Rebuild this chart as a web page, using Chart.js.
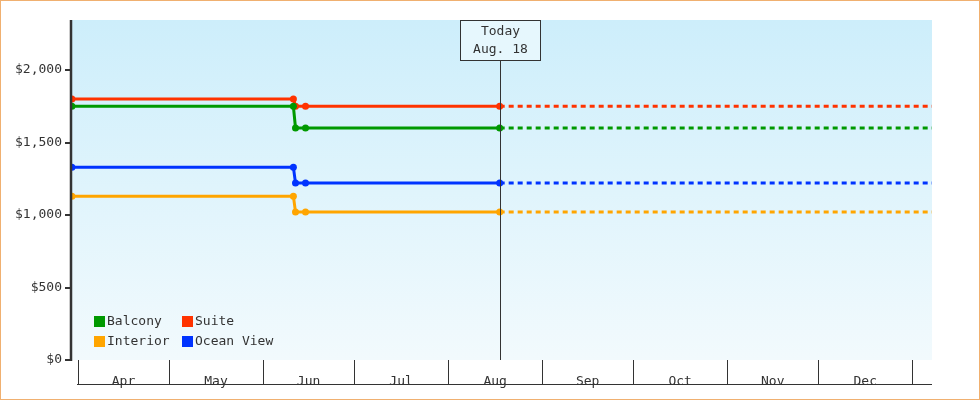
<!DOCTYPE html>
<html><head><meta charset="utf-8">
<script src="https://cdn.jsdelivr.net/npm/chart.js@4"></script>
<style>html,body{margin:0;padding:0;background:#fff}
#w{width:978px;height:398px;border:1px solid #f0b070;position:relative}
canvas{display:block}</style></head>
<body><div id="w"><canvas id="c" width="978" height="398"></canvas></div>
<script>
// day-of-year (Jan 1 = 0)
const seriesNames = ["Balcony","Suite","Interior","Ocean View"];
const seriesColors = ["#009900","#ff3300","#ffa500","#0033ff"];
const changeDays = [88, 161, 161.7, 165, 229]; // Mar 29, Jun 10, Jun 11, Jun 14, Aug 18
const balcony = [1750, 1750, 1600, 1600, 1600];
const suite = [1800, 1800, 1750, 1750, 1750];
const interior = [1130, 1130, 1020, 1020, 1020];
const oceanView = [1330, 1330, 1220, 1220, 1220];
const monthLabels = ["Apr","May","Jun","Jul","Aug","Sep","Oct","Nov","Dec"];
const monthStarts = [90,120,151,181,212,243,273,304,334,365];
const yTicks = [0,500,1000,1500,2000];
const todayDay = 229, todayLabel = ["Today","Aug. 18"];
const xMin = 87.7, xMax = 371.5, yMax = 2345;

const values = [balcony, suite, interior, oceanView];
const datasets = [];
values.forEach((v,i)=>{
  datasets.push({label:seriesNames[i], data:changeDays.map((d,j)=>({x:d,y:v[j]})),
    borderColor:seriesColors[i], backgroundColor:seriesColors[i], borderWidth:3,
    pointRadius:3.5, pointBorderWidth:0, tension:0});
  datasets.push({label:seriesNames[i]+" forecast", data:[{x:todayDay,y:v[v.length-1]},{x:xMax,y:v[v.length-1]}],
    borderColor:seriesColors[i], borderWidth:3, borderDash:[5,4], pointRadius:0});
});
const F = '"DejaVu Sans Mono", monospace';
const deco = {
  id:'deco',
  beforeDraw(ch){
    const {ctx, chartArea:a} = ch;
    const g = ctx.createLinearGradient(0,a.top,0,a.bottom);
    g.addColorStop(0,'#cdeefb'); g.addColorStop(1,'#f2fafd');
    ctx.fillStyle=g; ctx.fillRect(a.left,a.top,a.right-a.left,a.bottom-a.top);
  },
  afterDatasetsDraw(ch){
    const {ctx, chartArea:a, scales:{x}} = ch;
    ctx.save();
    // today line & box
    const tx = Math.round(x.getPixelForValue(todayDay))+0.5;
    ctx.strokeStyle='#333'; ctx.lineWidth=1;
    ctx.beginPath(); ctx.moveTo(tx,a.top+40); ctx.lineTo(tx,a.bottom); ctx.stroke();
    ctx.fillStyle='#e6f7fd'; ctx.fillRect(tx-40,a.top+0.5,80,40);
    ctx.strokeRect(tx-40,a.top+0.5,80,40);
    ctx.fillStyle='#333'; ctx.font='13px '+F; ctx.textAlign='center'; ctx.textBaseline='middle';
    ctx.fillText(todayLabel[0],tx,a.top+12); ctx.fillText(todayLabel[1],tx,a.top+30);
    // month separators and bottom line
    ctx.beginPath();
    monthStarts.forEach(d=>{const px=Math.round(x.getPixelForValue(d))+0.5; ctx.moveTo(px,a.bottom); ctx.lineTo(px,a.bottom+24);});
    ctx.moveTo(a.left+6,a.bottom+24.5); ctx.lineTo(a.right,a.bottom+24.5);
    ctx.stroke();
    // legend
    ctx.textAlign='left';
    const pos=[[93,320],[181,320],[93,340],[181,340]];
    const order=[0,1,2,3];
    order.forEach((i,k)=>{const [px,py]=pos[k];
      ctx.fillStyle=seriesColors[i]; ctx.fillRect(px,py-5,11,11);
      ctx.fillStyle='#333'; ctx.fillText(seriesNames[i],px+13,py+1);});
    // y axis line
    ctx.strokeStyle='#333'; ctx.lineWidth=2.5;
    ctx.beginPath(); ctx.moveTo(a.left,a.top); ctx.lineTo(a.left,a.bottom+1); ctx.stroke();
    ctx.restore();
  }
};
new Chart(document.getElementById('c'),{
  type:'line', data:{datasets},
  options:{responsive:false, animation:false,
    layout:{padding:{top:19,right:47,left:0,bottom:0}},
    plugins:{legend:{display:false},tooltip:{enabled:false}},
    scales:{
      x:{type:'linear',min:xMin,max:xMax,
        afterFit(s){s.height=39;},
        afterBuildTicks(s){s.ticks=monthLabels.map((m,i)=>({value:(monthStarts[i]+monthStarts[i+1])/2,label:m}));},
        ticks:{autoSkip:false,maxRotation:0,color:'#333',font:{family:F,size:13},padding:6,callback:(v,i)=>monthLabels[i]},
        grid:{display:false}, border:{display:false}},
      y:{min:0,max:yMax,
        afterFit(s){s.width=70;},
        afterBuildTicks(s){s.ticks=yTicks.map(v=>({value:v}));},
        ticks:{color:'#333',font:{family:F,size:13},padding:3,
          callback:v=>'$'+v.toLocaleString('en-US')},
        grid:{drawOnChartArea:false,tickLength:6,color:'#333',lineWidth:2},
        border:{display:false}}
    }},
  plugins:[deco]
});
</script></body></html>
